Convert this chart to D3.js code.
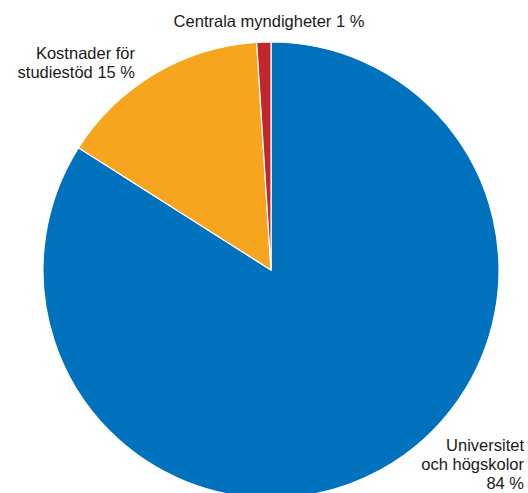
<!DOCTYPE html>
<html><head><meta charset="utf-8">
<script src="https://cdn.jsdelivr.net/npm/d3@7"></script>
<style>body{margin:0;background:#fff}svg{display:block}</style>
</head><body>
<script>
const categories = ["Universitet och högskolor", "Kostnader för studiestöd", "Centrala myndigheter"];
const values = [84, 15, 1];
const colors = ["#0071bc", "#f7a51e", "#c1272d"];
const labelLines = [["Universitet", "och högskolor", "84 %"], ["Kostnader för", "studiestöd 15 %"], ["Centrala myndigheter 1 %"]];

const W = 528, H = 493, cx = 271, cy = 270, R = 228;
const svg = d3.select("body").append("svg").attr("width", W).attr("height", H);
const data = categories.map((c, i) => ({c, v: values[i], i}));
const pie = d3.pie().value(d => d.v).sort(null);
const arc = d3.arc().innerRadius(0).outerRadius(R);
const g = svg.append("g").attr("transform", `translate(${cx},${cy})`);
g.selectAll("path").data(pie(data)).join("path")
  .attr("d", arc).attr("fill", d => colors[d.data.i])
  .attr("stroke", "#fff").attr("stroke-width", 1.2);

const font = "'Liberation Sans', Arial, Helvetica, sans-serif";
const labelPos = [
  {x: 524, y: 451, anchor: "end"},
  {x: 135, y: 59, anchor: "end"},
  {x: 269, y: 27, anchor: "middle"}
];
labelLines.forEach((lines, i) => {
  const p = labelPos[i];
  const t = svg.append("text").attr("font-family", font).attr("font-size", 16.5)
    .attr("fill", "#1a1a1a").attr("text-anchor", p.anchor);
  lines.forEach((l, j) => t.append("tspan").attr("x", p.x).attr("y", p.y + j * 19).text(l));
});
</script>
</body></html>
